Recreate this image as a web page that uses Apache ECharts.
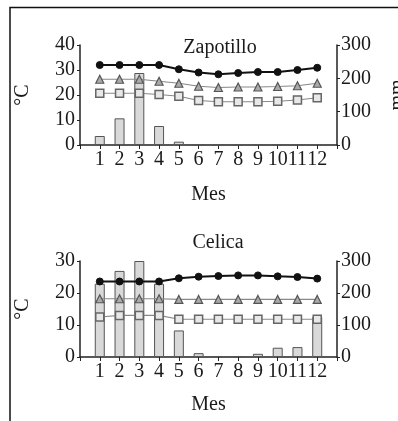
<!DOCTYPE html>
<html><head><meta charset="utf-8">
<script src="https://cdn.jsdelivr.net/npm/echarts@6/dist/echarts.min.js"></script>
<style>html,body{margin:0;padding:0;background:#fff}#c{width:398px;height:421px}</style>
</head><body><div id="c"></div>
<script>
const months = [1,2,3,4,5,6,7,8,9,10,11,12];
const xTickLabels = ['1','2','3','4','5','6','7','8','9','10','11','12'];
const zapTitle = 'Zapotillo';
const zapMax = [32, 32, 32, 32, 30.3, 29, 28.3, 28.8, 29.2, 29.2, 30, 30.9];
const zapMean = [26.3, 26.3, 26.3, 25.5, 24.7, 23.5, 23, 23.2, 23.2, 23.4, 23.7, 24.7];
const zapMin = [20.7, 20.7, 20.7, 20.2, 19.5, 17.8, 17.3, 17.3, 17.3, 17.5, 18, 18.9];
const zapPrecip = [27, 80, 216, 57, 10, 1, 0, 1, 1, 1, 1, 3];
const celTitle = 'Celica';
const celMax = [23.6, 23.6, 23.6, 23.6, 24.6, 25.1, 25.3, 25.5, 25.5, 25.2, 25, 24.5];
const celMean = [18.2, 18.2, 18.2, 18.2, 18, 18, 18, 18, 18, 18, 18, 18];
const celMin = [12.5, 13, 13, 13, 11.8, 11.8, 11.8, 11.8, 11.8, 11.8, 11.8, 11.8];
const celPrecip = [229, 269, 300, 229, 83, 12, 3, 3, 10, 29, 31, 125];

const FONT = 'Liberation Serif';
const TXT = '#1a1a1a';
const FS = 20;
const pairs = arr => arr.map((v, i) => [months[i], v]);

function xAxis(gi, gap) {
  return {
    type: 'value', gridIndex: gi, min: 0, max: 13, interval: 1,
    name: 'Mes', nameLocation: 'middle', nameGap: gap,
    nameTextStyle: {fontFamily: FONT, fontSize: FS, color: TXT},
    axisLine: {show: true, lineStyle: {color: '#222', width: 1.5}},
    axisTick: {show: true, length: 4, lineStyle: {color: '#222'}},
    splitLine: {show: false},
    axisLabel: {fontFamily: FONT, fontSize: FS, color: TXT, margin: 5, hideOverlap: false,
      formatter: v => (v >= 1 && v <= 12) ? xTickLabels[v - 1] : ''}
  };
}
function yLeft(gi, max) {
  return {
    type: 'value', gridIndex: gi, min: 0, max: max, interval: 10, position: 'left',
    name: '°C', nameLocation: 'middle', nameGap: 47, nameRotate: 90,
    nameTextStyle: {fontFamily: FONT, fontSize: FS, color: TXT},
    axisLine: {show: true, lineStyle: {color: '#222', width: 1.5}},
    axisTick: {show: true, length: 3, lineStyle: {color: '#222'}},
    splitLine: {show: false},
    axisLabel: {fontFamily: FONT, fontSize: FS, color: TXT, margin: 5}
  };
}
function yRight(gi, showName) {
  return {
    type: 'value', gridIndex: gi, min: 0, max: 300, interval: 100, position: 'right',
    name: showName ? 'mm' : '', nameLocation: 'middle', nameGap: 51, nameRotate: 90,
    nameTextStyle: {fontFamily: FONT, fontSize: FS, color: TXT},
    axisLine: {show: true, lineStyle: {color: '#222', width: 1.5}},
    axisTick: {show: true, length: 3, lineStyle: {color: '#222'}},
    splitLine: {show: false},
    axisLabel: {fontFamily: FONT, fontSize: FS, color: TXT, margin: 4}
  };
}
function seriesFor(gi, maxA, meanA, minA, precA) {
  const xi = gi, yl = gi * 2, yr = gi * 2 + 1;
  return [
    {type: 'bar', xAxisIndex: xi, yAxisIndex: yr, data: pairs(precA), barWidth: 10,
      itemStyle: {color: '#d9d9d9', borderColor: '#555', borderWidth: 1}, silent: true},
    {type: 'line', xAxisIndex: xi, yAxisIndex: yl, data: pairs(minA), symbol: 'rect', symbolSize: 8,
      lineStyle: {color: '#888', width: 1.2}, itemStyle: {color: '#e8e8e8', borderColor: '#666', borderWidth: 1.5}},
    {type: 'line', xAxisIndex: xi, yAxisIndex: yl, data: pairs(meanA), symbol: 'triangle', symbolSize: 8,
      lineStyle: {color: '#888', width: 1.2}, itemStyle: {color: '#aaa', borderColor: '#555', borderWidth: 1.2}},
    {type: 'line', xAxisIndex: xi, yAxisIndex: yl, data: pairs(maxA), symbol: 'circle', symbolSize: 7,
      lineStyle: {color: '#111', width: 2}, itemStyle: {color: '#111', borderColor: '#111'}}
  ];
}

const chart = echarts.init(document.getElementById('c'), null, {renderer: 'canvas'});
chart.setOption({
  animation: false,
  backgroundColor: '#fff',
  title: [
    {text: zapTitle, left: 215, top: 33, textAlign: 'center',
      textStyle: {fontFamily: FONT, fontSize: FS, fontWeight: 'normal', color: TXT}},
    {text: celTitle, left: 213, top: 228, textAlign: 'center',
      textStyle: {fontFamily: FONT, fontSize: FS, fontWeight: 'normal', color: TXT}}
  ],
  grid: [
    {left: 80, top: 45, width: 257, height: 100, outerBoundsMode: 'none', containLabel: false},
    {left: 80, top: 261, width: 257, height: 96, outerBoundsMode: 'none', containLabel: false}
  ],
  xAxis: [xAxis(0, 40), xAxis(1, 38)],
  yAxis: [yLeft(0, 40), yRight(0, true), yLeft(1, 30), yRight(1, false)],
  series: seriesFor(0, zapMax, zapMean, zapMin, zapPrecip).concat(seriesFor(1, celMax, celMean, celMin, celPrecip)),
  graphic: [
    {type: 'polyline', shape: {points: [[10, 421], [10, 7.5], [398, 7.5]]},
      style: {stroke: '#111', lineWidth: 1.5, fill: null}}
  ]
});
</script></body></html>
